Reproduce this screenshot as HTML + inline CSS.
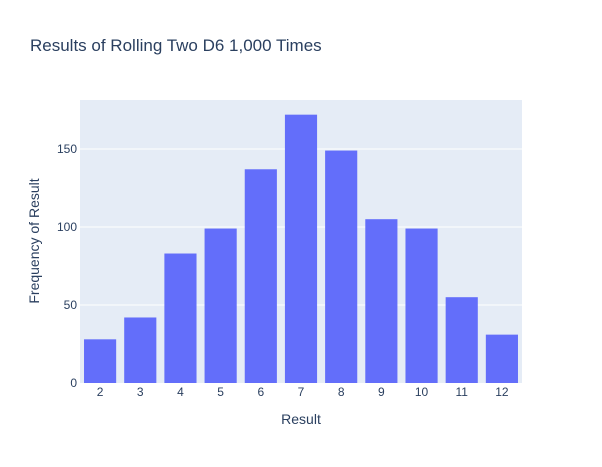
<!DOCTYPE html>
<html><head><meta charset="utf-8"><style>
body{margin:0;background:#fff;font-family:"Liberation Sans",Arial,sans-serif;}
svg text{font-family:"Liberation Sans",Arial,sans-serif;}
</style></head><body>
<svg id="chart" width="602" height="462" xmlns="http://www.w3.org/2000/svg">
<rect width="602" height="462" fill="#fff"/>
<rect x="80" y="100" width="442" height="283" fill="#e5ecf6"/>
<g id="grid"></g>
<g id="bars"></g>
<g id="xticks"></g>
<g id="yticks"></g>
<text x="30" y="51" font-size="17" fill="#2a3f5f">Results of Rolling Two D6 1,000 Times</text>
<text x="301" y="424" font-size="14" fill="#2a3f5f" text-anchor="middle">Result</text>
<text transform="translate(39,241) rotate(-90)" font-size="14" fill="#2a3f5f" text-anchor="middle">Frequency of Result</text>
</svg>
<script>
const categories = ["2","3","4","5","6","7","8","9","10","11","12"];
const counts = [28,42,83,99,137,172,149,105,99,55,31];
const yTicks = [0,50,100,150];
const NS="http://www.w3.org/2000/svg";
const X0=80,W=442,Y0=383,H=283,YMAX=181.4;
function y(v){return Y0-v/YMAX*H;}
const step=W/categories.length;
function x(i){return X0+step*(i+0.5);}
const grid=document.getElementById('grid'),bars=document.getElementById('bars'),xt=document.getElementById('xticks'),yt=document.getElementById('yticks');
yTicks.forEach(t=>{
  if(t>0){const l=document.createElementNS(NS,'line');
  l.setAttribute('x1',X0);l.setAttribute('x2',X0+W);l.setAttribute('y1',y(t));l.setAttribute('y2',y(t));
  l.setAttribute('stroke','#fff');l.setAttribute('stroke-width','1');
  
  
  grid.appendChild(l);}
  const tx=document.createElementNS(NS,'text');
  tx.setAttribute('x',X0-3);tx.setAttribute('y',y(t)+4);tx.setAttribute('text-anchor','end');
  tx.setAttribute('font-size','12');tx.setAttribute('fill','#2a3f5f');tx.textContent=t;
  
  
  yt.appendChild(tx);
});
categories.forEach((c,i)=>{
  const bw=step*0.8;
  const r=document.createElementNS(NS,'rect');
  r.setAttribute('x',x(i)-bw/2);r.setAttribute('width',bw);
  r.setAttribute('y',y(counts[i]));r.setAttribute('height',Y0-y(counts[i]));
  r.setAttribute('fill','#636efa');
  
  
  bars.appendChild(r);
  const tx=document.createElementNS(NS,'text');
  tx.setAttribute('x',x(i));tx.setAttribute('y',Y0+13);tx.setAttribute('text-anchor','middle');
  tx.setAttribute('font-size','12');tx.setAttribute('fill','#2a3f5f');tx.textContent=c;
  
  
  xt.appendChild(tx);
});
</script>
</body></html>
